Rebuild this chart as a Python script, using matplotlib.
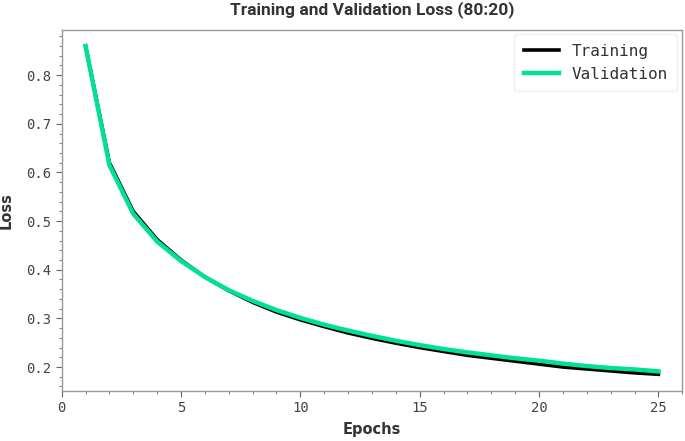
import numpy as np
import matplotlib
matplotlib.use("Agg")
import matplotlib.pyplot as plt
from matplotlib.ticker import MultipleLocator

# loss values per epoch
epochs = np.arange(1, 26)
train_loss = [0.860, 0.620, 0.520, 0.462, 0.420, 0.385, 0.357, 0.333, 0.313, 0.297,
              0.283, 0.270, 0.259, 0.249, 0.240, 0.232, 0.224, 0.218, 0.212, 0.206,
              0.200, 0.196, 0.192, 0.188, 0.185]
val_loss = [0.860, 0.615, 0.515, 0.458, 0.418, 0.385, 0.358, 0.336, 0.317, 0.301,
            0.287, 0.275, 0.264, 0.254, 0.245, 0.237, 0.230, 0.224, 0.218, 0.213,
            0.207, 0.202, 0.198, 0.195, 0.191]

mono = "DejaVu Sans Mono"

fig = plt.figure(figsize=(6.85, 4.41), dpi=100)
ax = fig.add_axes([0.090, 0.114, 0.906, 0.819])

ax.plot(epochs, train_loss, color="black", lw=2.6, label="Training")
ax.plot(epochs, val_loss, color="#00E096", lw=3.2, label="Validation")

ax.set_xlim(0, 26)
ax.xaxis.set_major_locator(MultipleLocator(5))
ax.xaxis.set_minor_locator(MultipleLocator(1))
ax.yaxis.set_major_locator(MultipleLocator(0.1))
ax.yaxis.set_minor_locator(MultipleLocator(0.02))

for s in ax.spines.values():
    s.set_color("#999999")
    s.set_linewidth(1.0)
ax.tick_params(which="both", direction="out", color="#666666", labelcolor="#444444")
ax.tick_params(which="major", length=4, labelsize=10)
ax.tick_params(which="minor", length=2)
for lab in ax.get_xticklabels() + ax.get_yticklabels():
    lab.set_family(mono)

ax.set_title("Training and Validation Loss (80:20)", fontsize=12.5, fontweight="bold",
             color="#333333", family="Roboto", pad=11)
ax.set_xlabel("Epochs", fontsize=10.5, fontweight="bold", color="#333333", labelpad=5)
ax.set_ylabel("Loss", fontsize=10.5, fontweight="bold", color="#333333", labelpad=9)

leg = ax.legend(loc="upper right", prop={"family": mono, "size": 11.5},
                frameon=True, fancybox=True, framealpha=1.0, edgecolor="#eeeeee",
                handlelength=2.2, borderpad=0.6, borderaxespad=0.3)
for t in leg.get_texts():
    t.set_color("#333333")

fig.savefig("out.png", dpi=100)
